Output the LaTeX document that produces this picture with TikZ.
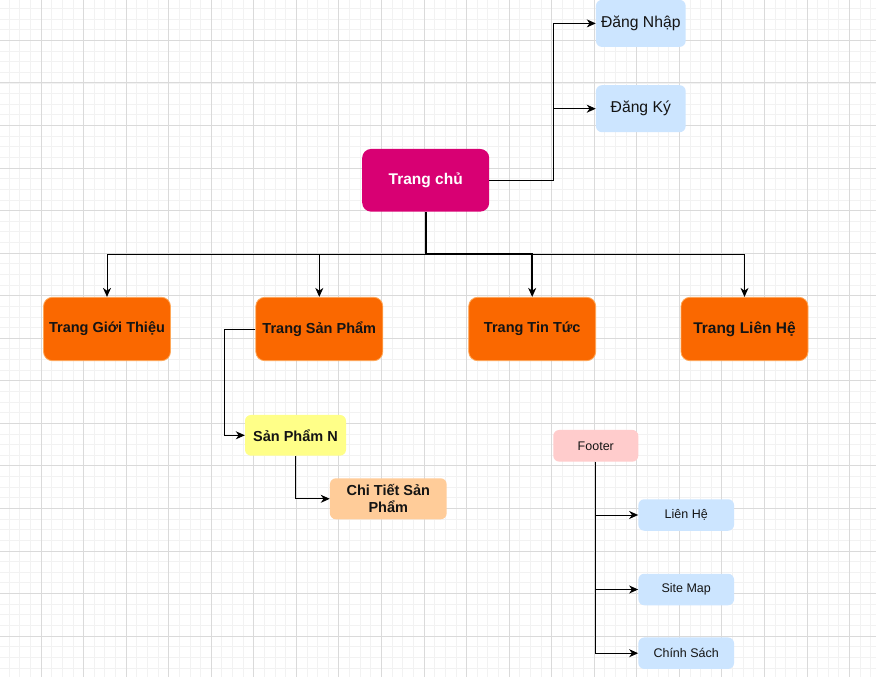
\documentclass[tikz,border=0pt]{standalone}
\usepackage{fontspec}
\setmainfont{Liberation Sans}
\usetikzlibrary{arrows.meta}
\definecolor{gridminor}{HTML}{F2F2F2}
\definecolor{gridmajor}{HTML}{DADADA}
\definecolor{homefill}{HTML}{D80073}
\definecolor{pagefill}{HTML}{FA6800}
\definecolor{pageline}{HTML}{FFA858}
\definecolor{bluefill}{HTML}{CCE5FF}
\definecolor{yellowfill}{HTML}{FFFF88}
\definecolor{peachfill}{HTML}{FFCC99}
\definecolor{pinkfill}{HTML}{FFCCCC}
\definecolor{inkdark}{HTML}{141414}
\tikzset{
  box/.style={draw=none, rounded corners=6pt, align=center, inner sep=0pt, text=inkdark},
  homebox/.style={box, fill=homefill, text=white, rounded corners=9pt,
    minimum width=127pt, minimum height=62.7pt, font=\fontsize{15.5}{18}\selectfont\bfseries},
  pagebox/.style={box, fill=pagefill, draw=pageline, line width=0.8pt, rounded corners=9pt,
    minimum width=127pt, minimum height=63.4pt, font=\fontsize{14.5}{17}\selectfont\bfseries},
  authbox/.style={box, fill=bluefill, minimum width=89.7pt, minimum height=47pt,
    font=\fontsize{15.7}{18}\selectfont},
  footbox/.style={box, fill=bluefill, minimum width=95.7pt, minimum height=31.5pt,
    font=\fontsize{12.5}{15}\selectfont},
  link/.style={draw=black, line width=1pt, -{Stealth[length=9pt,width=8pt,inset=2.8pt]}},
  boldlink/.style={link, line width=1.8pt},
}
\begin{document}
\begin{tikzpicture}[x=1pt, y=-1pt]
  % canvas and background grid
  \fill[white] (0,0) rectangle (876,677);
  \useasboundingbox (0,0) rectangle (876,677);
  \foreach \i in {0,...,82} {
    \draw[gridminor, line width=0.7pt] (9.08+\i*10.6375,0) -- (9.08+\i*10.6375,677);
  }
  \foreach \i in {0,...,63} {
    \draw[gridminor, line width=0.7pt] (0,8.39+\i*10.6375) -- (876,8.39+\i*10.6375);
  }
  \foreach \i in {0,...,20} {
    \draw[gridmajor, line width=0.8pt] (41+\i*42.55,0) -- (41+\i*42.55,677);
  }
  \foreach \i in {0,...,15} {
    \draw[gridmajor, line width=0.8pt] (0,40.3+\i*42.55) -- (876,40.3+\i*42.55);
  }

  % home page and account pages
  \node[homebox] (home) at (425.7,180.3) {Trang chủ};
  \node[authbox] (login) at (640.8,23.4) {Đăng Nhập};
  \node[authbox] (signup) at (640.8,108.7) {Đăng Ký};

  % main sections
  \node[pagebox] (about) at (107,329) {Trang Giới Thiệu};
  \node[pagebox] (products) at (319.3,329) {Trang Sản Phẩm};
  \node[pagebox] (news) at (532.2,329) {Trang Tin Tức};
  \node[pagebox, font=\fontsize{15.5}{18}\selectfont\bfseries] (contact) at (744.5,329) {Trang Liên Hệ};

  % product pages
  \node[box, fill=yellowfill, minimum width=101pt, minimum height=40.7pt,
        font=\fontsize{14.5}{17}\selectfont\bfseries] (item) at (295.5,435.3) {Sản Phẩm N};
  \node[box, fill=peachfill, minimum width=116.7pt, minimum height=41pt,
        font=\fontsize{14.5}{17.3}\selectfont\bfseries] (detail) at (388.3,498.8) {Chi Tiết Sản\\Phẩm};

  % footer links
  \node[box, fill=pinkfill, minimum width=85pt, minimum height=31.7pt,
        font=\fontsize{12.5}{15}\selectfont] (footer) at (595.8,445.8) {Footer};
  \node[footbox] (fcontact) at (686.2,515) {Liên Hệ};
  \node[footbox] (sitemap) at (686.2,589.5) {Site Map};
  \node[footbox] (policy) at (686.2,653.2) {Chính Sách};

  % connectors
  \coordinate (authsplit) at (553.3,180.3);
  \draw[link] (home.east) -- (authsplit) |- (login.west);
  \draw[link] (authsplit) |- (signup.west);

  \coordinate (bus) at (425.7,254.3);
  \draw[link] (home.south) -- (bus) -| (about.north);
  \draw[link] (bus) -| (products.north);
  \draw[link] (bus) -| (contact.north);
  \draw[boldlink] (home.south) -- (bus) -| (news.north);

  \coordinate (prodturn) at (224,329);
  \draw[link] (products.west) -- (prodturn) |- (item.west);
  \draw[link] (item.south) |- (detail.west);

  \draw[link] (footer.south) |- (fcontact.west);
  \draw[link] (footer.south) |- (sitemap.west);
  \draw[link] (footer.south) |- (policy.west);
\end{tikzpicture}
\end{document}
